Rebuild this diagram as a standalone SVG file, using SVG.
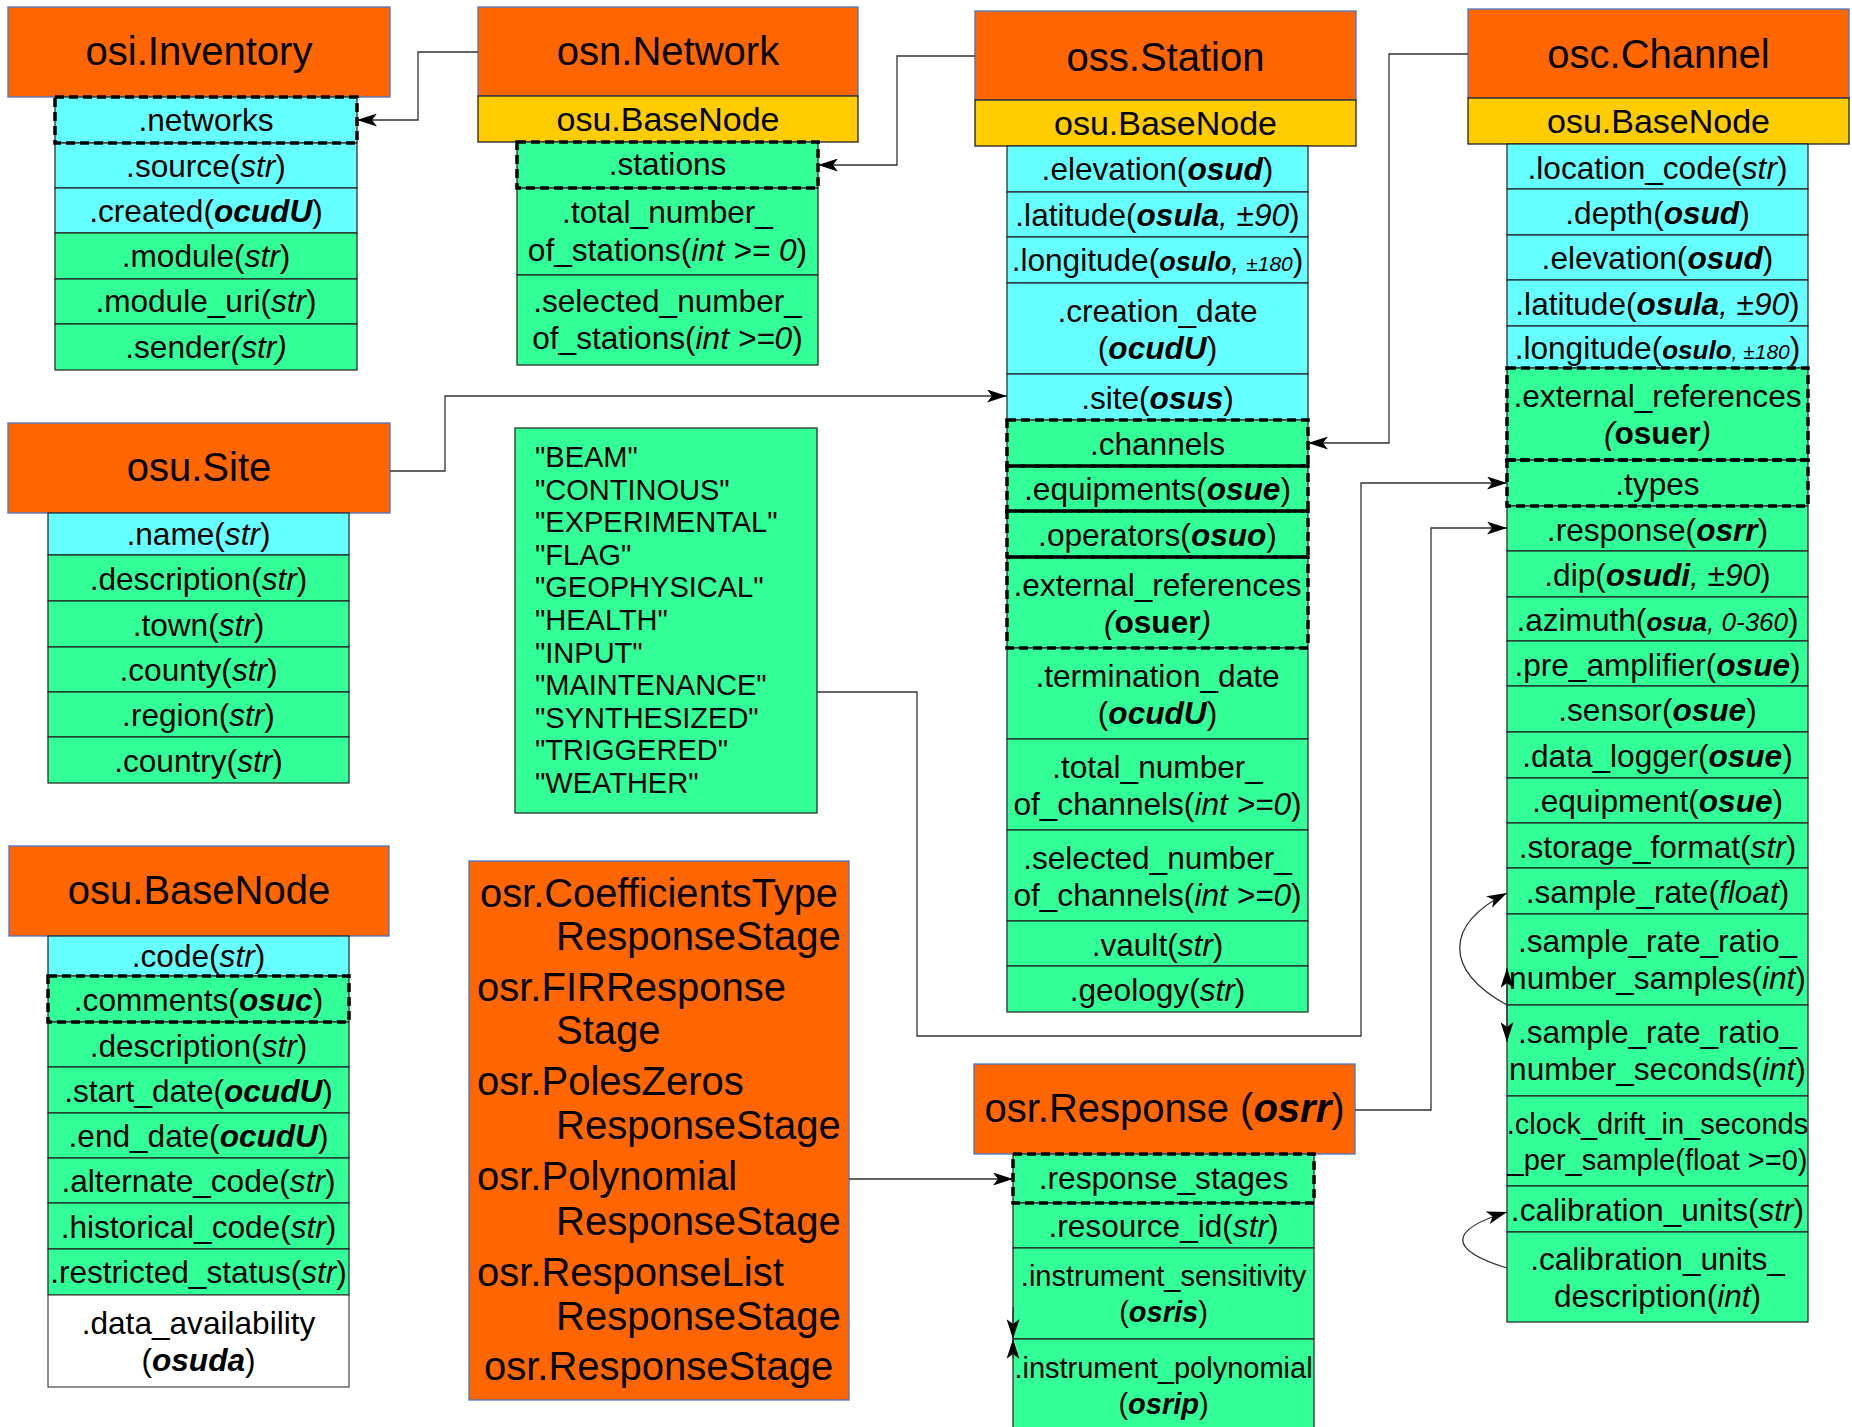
<svg xmlns="http://www.w3.org/2000/svg" width="1852" height="1427" viewBox="0 0 1852 1427">
<style>
text{font-family:"Liberation Sans",Arial,sans-serif;fill:#000}
.hdr{fill:#ff6600;stroke:#4a76c9;stroke-width:1.3}
.sub{fill:#ffcc00;stroke:#222;stroke-width:1.3}
.cy{fill:#66ffff;stroke:#222;stroke-width:1.2}
.gr{fill:#33ff99;stroke:#222;stroke-width:1.2}
.wh{fill:#ffffff;stroke:#444;stroke-width:1.2}
.dash{fill:none;stroke:#000;stroke-width:3.5;stroke-dasharray:9 5}
.h{font-size:40px;text-anchor:middle}
.s{font-size:34px;text-anchor:middle}
.r{font-size:31.6px;text-anchor:middle}
.r2{font-size:29px;text-anchor:middle}
.lst{font-size:29px}
.big{font-size:40px}
.i{font-style:italic}
.b{font-weight:bold;font-style:italic}
.bo{font-weight:bold}
.ln{fill:none;stroke:#333;stroke-width:1.3}
</style>
<defs>
<marker id="arr" markerUnits="userSpaceOnUse" markerWidth="20" markerHeight="13" refX="20" refY="6.5" orient="auto-start-reverse">
<path d="M0,0 L20,6.5 L0,13 L5,6.5 Z" fill="#000"/>
</marker>
</defs>

<g id="inventory">
<rect class="hdr" x="8" y="7" width="382" height="90"/>
<text class="h" x="199" y="65">osi.Inventory</text>
<rect class="cy" x="55" y="97" width="302" height="46"/>
<text class="r" x="206" y="131">.networks</text>
<rect class="cy" x="55" y="143" width="302" height="45"/>
<text class="r" x="206" y="177">.source(<tspan class="i">str</tspan>)</text>
<rect class="cy" x="55" y="188" width="302" height="45"/>
<text class="r" x="206" y="222">.created(<tspan class="b">ocudU</tspan>)</text>
<rect class="gr" x="55" y="233" width="302" height="46"/>
<text class="r" x="206" y="267">.module(<tspan class="i">str</tspan>)</text>
<rect class="gr" x="55" y="279" width="302" height="45"/>
<text class="r" x="206" y="312">.module_uri(<tspan class="i">str</tspan>)</text>
<rect class="gr" x="55" y="324" width="302" height="46"/>
<text class="r" x="206" y="358">.sender<tspan class="i">(str)</tspan></text>
<rect class="dash" x="55" y="97" width="302" height="46"/>
</g>

<g id="network">
<rect class="hdr" x="478" y="7" width="380" height="89"/>
<text class="h" x="668" y="65">osn.Network</text>
<rect class="sub" x="478" y="96" width="380" height="46"/>
<text class="s" x="668" y="131">osu.BaseNode</text>
<rect class="gr" x="517" y="142" width="301" height="46"/>
<text class="r" x="667.5" y="175">.stations</text>
<rect class="gr" x="517" y="188" width="301" height="87"/>
<text class="r" x="667.5" y="223">.total_number_</text>
<text class="r" x="667.5" y="261">of_stations(<tspan class="i">int &gt;= 0</tspan>)</text>
<rect class="gr" x="517" y="275" width="301" height="90"/>
<text class="r" x="667.5" y="312">.selected_number_</text>
<text class="r" x="667.5" y="349">of_stations(<tspan class="i">int &gt;=0</tspan>)</text>
<rect class="dash" x="517" y="142" width="301" height="46"/>
</g>

<g id="station">
<rect class="hdr" x="975" y="11" width="381" height="89"/>
<text class="h" x="1165.5" y="71">oss.Station</text>
<rect class="sub" x="975" y="100" width="381" height="46"/>
<text class="s" x="1165.5" y="135">osu.BaseNode</text>
<rect class="cy" x="1007" y="146" width="301" height="46"/>
<text class="r" x="1157.5" y="180">.elevation(<tspan class="b">osud</tspan>)</text>
<rect class="cy" x="1007" y="192" width="301" height="45"/>
<text class="r" x="1157.5" y="226">.latitude(<tspan class="b">osula</tspan><tspan class="i">, ±90</tspan>)</text>
<rect class="cy" x="1007" y="237" width="301" height="46"/>
<text class="r" x="1157.5" y="271">.longitude(<tspan class="b" font-size="27">osulo</tspan><tspan class="i" font-size="27">, </tspan><tspan class="i" font-size="21">±180</tspan>)</text>
<rect class="cy" x="1007" y="283" width="301" height="91"/>
<text class="r" x="1157.5" y="322">.creation_date</text>
<text class="r" x="1157.5" y="359">(<tspan class="b">ocudU</tspan>)</text>
<rect class="cy" x="1007" y="374" width="301" height="46"/>
<text class="r" x="1157.5" y="409">.site(<tspan class="b">osus</tspan>)</text>
<rect class="gr" x="1007" y="420" width="301" height="46"/>
<text class="r" x="1157.5" y="455">.channels</text>
<rect class="gr" x="1007" y="466" width="301" height="45"/>
<text class="r" x="1157.5" y="500">.equipments(<tspan class="b">osue</tspan>)</text>
<rect class="gr" x="1007" y="511" width="301" height="46"/>
<text class="r" x="1157.5" y="546">.operators(<tspan class="b">osuo</tspan>)</text>
<rect class="gr" x="1007" y="557" width="301" height="91"/>
<text class="r" x="1157.5" y="596">.external_references</text>
<text class="r" x="1157.5" y="633"><tspan class="i">(</tspan><tspan class="bo">osuer</tspan><tspan class="i">)</tspan></text>
<rect class="gr" x="1007" y="648" width="301" height="91"/>
<text class="r" x="1157.5" y="687">.termination_date</text>
<text class="r" x="1157.5" y="724">(<tspan class="b">ocudU</tspan>)</text>
<rect class="gr" x="1007" y="739" width="301" height="91"/>
<text class="r" x="1157.5" y="778">.total_number_</text>
<text class="r" x="1157.5" y="815">of_channels(<tspan class="i">int &gt;=0</tspan>)</text>
<rect class="gr" x="1007" y="830" width="301" height="91"/>
<text class="r" x="1157.5" y="869">.selected_number_</text>
<text class="r" x="1157.5" y="906">of_channels(<tspan class="i">int &gt;=0</tspan>)</text>
<rect class="gr" x="1007" y="921" width="301" height="45"/>
<text class="r" x="1157.5" y="956">.vault(<tspan class="i">str</tspan>)</text>
<rect class="gr" x="1007" y="966" width="301" height="46"/>
<text class="r" x="1157.5" y="1001">.geology(<tspan class="i">str</tspan>)</text>
<rect class="dash" x="1007" y="420" width="301" height="46"/>
<rect class="dash" x="1007" y="466" width="301" height="45"/>
<rect class="dash" x="1007" y="511" width="301" height="46"/>
<rect class="dash" x="1007" y="557" width="301" height="91"/>
</g>

<g id="channel">
<rect class="hdr" x="1468" y="9" width="381" height="89"/>
<text class="h" x="1658.5" y="68">osc.Channel</text>
<rect class="sub" x="1468" y="98" width="381" height="46"/>
<text class="s" x="1658.5" y="133">osu.BaseNode</text>
<rect class="cy" x="1507" y="144" width="301" height="45"/>
<text class="r" x="1657.5" y="179">.location_code(<tspan class="i">str</tspan>)</text>
<rect class="cy" x="1507" y="189" width="301" height="46"/>
<text class="r" x="1657.5" y="224">.depth(<tspan class="b">osud</tspan>)</text>
<rect class="cy" x="1507" y="235" width="301" height="45"/>
<text class="r" x="1657.5" y="269">.elevation(<tspan class="b">osud</tspan>)</text>
<rect class="cy" x="1507" y="280" width="301" height="46"/>
<text class="r" x="1657.5" y="315">.latitude(<tspan class="b">osula</tspan><tspan class="i">, ±90</tspan>)</text>
<rect class="cy" x="1507" y="326" width="301" height="42"/>
<text class="r" x="1657.5" y="359">.longitude(<tspan class="b" font-size="26">osulo</tspan><tspan class="i" font-size="21">, ±180</tspan>)</text>
<rect class="gr" x="1507" y="368" width="301" height="92"/>
<text class="r" x="1657.5" y="407">.external_references</text>
<text class="r" x="1657.5" y="444"><tspan class="i">(</tspan><tspan class="bo">osuer</tspan><tspan class="i">)</tspan></text>
<rect class="gr" x="1507" y="460" width="301" height="46"/>
<text class="r" x="1657.5" y="495">.types</text>
<rect class="gr" x="1507" y="506" width="301" height="45"/>
<text class="r" x="1657.5" y="541">.response(<tspan class="b">osrr</tspan>)</text>
<rect class="gr" x="1507" y="551" width="301" height="46"/>
<text class="r" x="1657.5" y="586">.dip(<tspan class="b">osudi</tspan><tspan class="i">, ±90</tspan>)</text>
<rect class="gr" x="1507" y="597" width="301" height="44"/>
<text class="r" x="1657.5" y="631">.azimuth(<tspan class="b" font-size="26">osua</tspan><tspan class="i" font-size="26">, 0-360</tspan>)</text>
<rect class="gr" x="1507" y="641" width="301" height="45"/>
<text class="r" x="1657.5" y="676">.pre_amplifier(<tspan class="b">osue</tspan>)</text>
<rect class="gr" x="1507" y="686" width="301" height="46"/>
<text class="r" x="1657.5" y="721">.sensor(<tspan class="b">osue</tspan>)</text>
<rect class="gr" x="1507" y="732" width="301" height="46"/>
<text class="r" x="1657.5" y="767">.data_logger(<tspan class="b">osue</tspan>)</text>
<rect class="gr" x="1507" y="778" width="301" height="45"/>
<text class="r" x="1657.5" y="812">.equipment(<tspan class="b">osue</tspan>)</text>
<rect class="gr" x="1507" y="823" width="301" height="45"/>
<text class="r" x="1657.5" y="858">.storage_format(<tspan class="i">str</tspan>)</text>
<rect class="gr" x="1507" y="868" width="301" height="46"/>
<text class="r" x="1657.5" y="903">.sample_rate(<tspan class="i">float</tspan>)</text>
<rect class="gr" x="1507" y="914" width="301" height="91"/>
<text class="r" x="1657.5" y="952">.sample_rate_ratio_</text>
<text class="r" x="1657.5" y="989">number_samples(<tspan class="i">int</tspan>)</text>
<rect class="gr" x="1507" y="1005" width="301" height="91"/>
<text class="r" x="1657.5" y="1043">.sample_rate_ratio_</text>
<text class="r" x="1657.5" y="1080">number_seconds(<tspan class="i">int</tspan>)</text>
<rect class="gr" x="1507" y="1096" width="301" height="90"/>
<text class="r2" x="1657.5" y="1134">.clock_drift_in_seconds</text>
<text class="r2" x="1657.5" y="1170">_per_sample(float &gt;=0)</text>
<rect class="gr" x="1507" y="1186" width="301" height="46"/>
<text class="r" x="1657.5" y="1221">.calibration_units(<tspan class="i">str</tspan>)</text>
<rect class="gr" x="1507" y="1232" width="301" height="90"/>
<text class="r" x="1657.5" y="1270">.calibration_units_</text>
<text class="r" x="1657.5" y="1307">description(<tspan class="i">int</tspan>)</text>
<rect class="dash" x="1507" y="368" width="301" height="92"/>
<rect class="dash" x="1507" y="460" width="301" height="46"/>
</g>

<g id="site">
<rect class="hdr" x="8" y="423" width="382" height="90"/>
<text class="h" x="199" y="481">osu.Site</text>
<rect class="cy" x="48" y="513" width="301" height="42"/>
<text class="r" x="198.5" y="545">.name(<tspan class="i">str</tspan>)</text>
<rect class="gr" x="48" y="555" width="301" height="46"/>
<text class="r" x="198.5" y="590">.description(<tspan class="i">str</tspan>)</text>
<rect class="gr" x="48" y="601" width="301" height="46"/>
<text class="r" x="198.5" y="636">.town(<tspan class="i">str</tspan>)</text>
<rect class="gr" x="48" y="647" width="301" height="45"/>
<text class="r" x="198.5" y="681">.county(<tspan class="i">str</tspan>)</text>
<rect class="gr" x="48" y="692" width="301" height="45"/>
<text class="r" x="198.5" y="726">.region(<tspan class="i">str</tspan>)</text>
<rect class="gr" x="48" y="737" width="301" height="46"/>
<text class="r" x="198.5" y="772">.country(<tspan class="i">str</tspan>)</text>
</g>

<g id="basenode">
<rect class="hdr" x="9" y="846" width="380" height="90"/>
<text class="h" x="199" y="904">osu.BaseNode</text>
<rect class="cy" x="48" y="936" width="301" height="40"/>
<text class="r" x="198.5" y="967">.code(<tspan class="i">str</tspan>)</text>
<rect class="gr" x="48" y="976" width="301" height="46"/>
<text class="r" x="198.5" y="1011">.comments(<tspan class="b">osuc</tspan>)</text>
<rect class="gr" x="48" y="1022" width="301" height="45"/>
<text class="r" x="198.5" y="1057">.description(<tspan class="i">str</tspan>)</text>
<rect class="gr" x="48" y="1067" width="301" height="46"/>
<text class="r" x="198.5" y="1102">.start_date(<tspan class="b">ocudU</tspan>)</text>
<rect class="gr" x="48" y="1113" width="301" height="45"/>
<text class="r" x="198.5" y="1147">.end_date(<tspan class="b">ocudU</tspan>)</text>
<rect class="gr" x="48" y="1158" width="301" height="45"/>
<text class="r" x="198.5" y="1192">.alternate_code(<tspan class="i">str</tspan>)</text>
<rect class="gr" x="48" y="1203" width="301" height="46"/>
<text class="r" x="198.5" y="1238">.historical_code(<tspan class="i">str</tspan>)</text>
<rect class="gr" x="48" y="1249" width="301" height="46"/>
<text class="r" x="198.5" y="1283">.restricted_status(<tspan class="i">str</tspan>)</text>
<rect class="wh" x="48" y="1295" width="301" height="92"/>
<text class="r" x="198.5" y="1334">.data_availability</text>
<text class="r" x="198.5" y="1371">(<tspan class="b">osuda</tspan>)</text>
<rect class="dash" x="48" y="976" width="301" height="46"/>
</g>

<g id="types">
<rect class="gr" x="515" y="428" width="302" height="385"/>
<text class="lst" x="535" y="467">"BEAM"</text>
<text class="lst" x="535" y="500">"CONTINOUS"</text>
<text class="lst" x="535" y="532">"EXPERIMENTAL"</text>
<text class="lst" x="535" y="565">"FLAG"</text>
<text class="lst" x="535" y="597">"GEOPHYSICAL"</text>
<text class="lst" x="535" y="630">"HEALTH"</text>
<text class="lst" x="535" y="663">"INPUT"</text>
<text class="lst" x="535" y="695">"MAINTENANCE"</text>
<text class="lst" x="535" y="728">"SYNTHESIZED"</text>
<text class="lst" x="535" y="760">"TRIGGERED"</text>
<text class="lst" x="535" y="793">"WEATHER"</text>
</g>

<g id="stages">
<rect class="hdr" x="469" y="861" width="380" height="539"/>
<text class="big" x="480" y="907" textLength="358" lengthAdjust="spacingAndGlyphs">osr.CoefficientsType</text>
<text class="big" x="556" y="950">ResponseStage</text>
<text class="big" x="477" y="1001">osr.FIRResponse</text>
<text class="big" x="556" y="1044">Stage</text>
<text class="big" x="477" y="1095">osr.PolesZeros</text>
<text class="big" x="556" y="1139">ResponseStage</text>
<text class="big" x="477" y="1190">osr.Polynomial</text>
<text class="big" x="556" y="1235">ResponseStage</text>
<text class="big" x="477" y="1286">osr.ResponseList</text>
<text class="big" x="556" y="1330">ResponseStage</text>
<text class="big" x="484" y="1380">osr.ResponseStage</text>
</g>

<g id="response">
<rect class="hdr" x="974" y="1064" width="381" height="90"/>
<text class="h" x="1164.5" y="1122">osr.Response (<tspan class="b">osrr</tspan>)</text>
<rect class="gr" x="1013" y="1154" width="301" height="49"/>
<text class="r" x="1163.5" y="1189">.response_stages</text>
<rect class="gr" x="1013" y="1203" width="301" height="45"/>
<text class="r" x="1163.5" y="1237">.resource_id(<tspan class="i">str</tspan>)</text>
<rect class="gr" x="1013" y="1248" width="301" height="91"/>
<text class="r2" x="1163.5" y="1286">.instrument_sensitivity</text>
<text class="r2" x="1163.5" y="1322">(<tspan class="b">osris</tspan>)</text>
<rect class="gr" x="1013" y="1339" width="301" height="100"/>
<text class="r2" x="1163.5" y="1378">.instrument_polynomial</text>
<text class="r2" x="1163.5" y="1414">(<tspan class="b">osrip</tspan>)</text>
<rect class="dash" x="1013" y="1154" width="301" height="49"/>
</g>

<g id="connectors">
<path class="ln" d="M478,52 H418 V120 H357" marker-end="url(#arr)"/>
<path class="ln" d="M975,56 H897 V165 H818" marker-end="url(#arr)"/>
<path class="ln" d="M1468,54 H1389 V443 H1308" marker-end="url(#arr)"/>
<path class="ln" d="M390,471 H445 V396 H1007" marker-end="url(#arr)"/>
<path class="ln" d="M817,692 H917 V1036 H1361 V483 H1507" marker-end="url(#arr)"/>
<path class="ln" d="M1355,1110 H1431 V528 H1507" marker-end="url(#arr)"/>
<path class="ln" d="M849,1179 H1013" marker-end="url(#arr)"/>
<path class="ln" d="M1507,1005 C1444,970 1444,925 1507,893" marker-end="url(#arr)"/>
<path class="ln" d="M1507,968 V1042" marker-start="url(#arr)" marker-end="url(#arr)"/>
<path class="ln" d="M1507,1268 C1448,1250 1448,1230 1507,1212" marker-end="url(#arr)"/>
<path class="ln" d="M1013,1307 V1339" marker-end="url(#arr)"/>
<path class="ln" d="M1013,1358 V1339" marker-end="url(#arr)"/>
</g>
</svg>
